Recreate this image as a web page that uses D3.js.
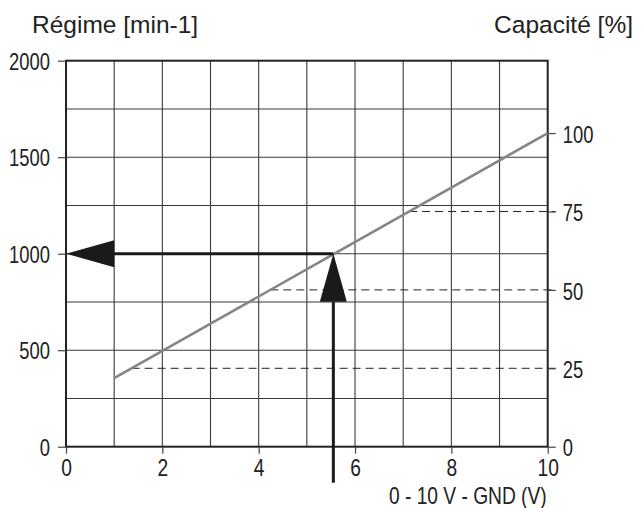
<!DOCTYPE html>
<html>
<head>
<meta charset="utf-8">
<script src="https://cdn.jsdelivr.net/npm/d3@7"></script>
<style>
  html, body { margin: 0; padding: 0; background: #fff; }
  svg { display: block; }
  .title { font-family: "Liberation Sans", Arial, "Helvetica Neue", sans-serif; font-size: 24.5px; fill: #222; }
  .cond { font-family: "Liberation Sans", Arial, sans-serif; fill: #222; }
</style>
</head>
<body>
<svg id="chart" width="641" height="508"></svg>
<script>
// ---- data ----
const voltageTicks = [0, 2, 4, 6, 8, 10];
const rpmTicks = [0, 500, 1000, 1500, 2000];
const capacityTicks = [0, 25, 50, 75, 100];
const lineVoltage = [1, 10];
const lineRpm = [355, 1625];
const dashedCapacity = [25, 50, 75];
const arrowVoltage = 5.55;
const arrowRpm = 1000;
const rpmPerPercent = 16.25; // 100 % = 1625 min-1
const leftTitle = "Régime [min-1]";
const rightTitle = "Capacité [%]";
const xTitle = "0 - 10 V - GND (V)";

// ---- layout ----
const svg = d3.select("#chart");
const m = { left: 66, top: 60.7, right: 93.3, bottom: 61.3 };
const W = 641 - m.left - m.right;
const H = 508 - m.top - m.bottom;
const g = svg.append("g").attr("transform", `translate(${m.left},${m.top})`);

const x = d3.scaleLinear().domain([0, 10]).range([0, W]);
const y = d3.scaleLinear().domain([0, 2000]).range([H, 0]);
const yR = d3.scaleLinear().domain([0, 2000 / rpmPerPercent]).range([H, 0]);

const SX = 0.8;
function condense(sel, size) {
  sel.each(function () {
    const t = d3.select(this);
    const tx = +t.attr("x") || 0;
    t.attr("x", 0).attr("class", "cond").style("font-size", size)
      .attr("transform", `translate(${tx},0) scale(${SX},1)`);
  });
}

// grid
const gridColor = "#3a3a3a";
g.append("g").selectAll("line").data(d3.range(1, 10)).join("line")
  .attr("x1", d => x(d)).attr("x2", d => x(d)).attr("y1", 0).attr("y2", H)
  .attr("stroke", gridColor).attr("stroke-width", 1.1);
g.append("g").selectAll("line").data(d3.range(250, 2000, 250)).join("line")
  .attr("x1", 0).attr("x2", W).attr("y1", d => y(d)).attr("y2", d => y(d))
  .attr("stroke", gridColor).attr("stroke-width", 1.1);

// dashed capacity lines
const slope = (lineRpm[1] - lineRpm[0]) / (lineVoltage[1] - lineVoltage[0]);
g.append("g").selectAll("line").data(dashedCapacity).join("line")
  .attr("x1", d => x(lineVoltage[0] + (d * rpmPerPercent - lineRpm[0]) / slope))
  .attr("x2", W + 8)
  .attr("y1", d => yR(d)).attr("y2", d => yR(d))
  .attr("stroke", "#222").attr("stroke-width", 1).attr("stroke-dasharray", "8,5");

// frame
g.append("rect").attr("x", 0).attr("y", 0).attr("width", W).attr("height", H)
  .attr("fill", "none").attr("stroke", "#222").attr("stroke-width", 2);

// axes
const xAxis = g.append("g").attr("transform", `translate(0,${H})`)
  .call(d3.axisBottom(x).tickValues(voltageTicks).tickSize(7).tickPadding(5).tickFormat(d3.format("d")));
xAxis.select(".domain").remove();
xAxis.selectAll(".tick line").attr("stroke", "#444").attr("stroke-width", 1.2);
condense(xAxis.selectAll(".tick text"), "24px");

const yAxis = g.append("g")
  .call(d3.axisLeft(y).tickValues(rpmTicks).tickSize(8).tickPadding(8).tickFormat(d3.format("d")));
yAxis.select(".domain").remove();
yAxis.selectAll(".tick line").attr("stroke", "#444").attr("stroke-width", 1.2);
condense(yAxis.selectAll(".tick text"), "23px");
yAxis.selectAll(".tick text").attr("dy", "0.38em");

const yRAxis = g.append("g").attr("transform", `translate(${W},0)`)
  .call(d3.axisRight(yR).tickValues(capacityTicks).tickSize(8).tickPadding(7).tickFormat(d3.format("d")));
yRAxis.select(".domain").remove();
yRAxis.selectAll(".tick line").attr("stroke", "#444").attr("stroke-width", 1.2);
condense(yRAxis.selectAll(".tick text"), "23px");
yRAxis.selectAll(".tick text").attr("dy", "0.4em");

// data line
const line = d3.line().x(d => x(d[0])).y(d => y(d[1]));
g.append("path").datum(d3.zip(lineVoltage, lineRpm)).attr("d", line)
  .attr("fill", "none").attr("stroke", "#858585").attr("stroke-width", 2.6);

// arrows
const ax = x(arrowVoltage), ay = y(arrowRpm);
const headLen = x(1) - x(0), headHalf = 13.5;
g.append("line").attr("x1", ax).attr("x2", x(0) + headLen).attr("y1", ay).attr("y2", ay)
  .attr("stroke", "#1a1a1a").attr("stroke-width", 3);
g.append("path").attr("d", `M${x(0)},${ay}L${x(0) + headLen},${ay - headHalf}L${x(0) + headLen},${ay + headHalf}Z`)
  .attr("fill", "#1a1a1a");
g.append("line").attr("x1", ax).attr("x2", ax).attr("y1", ay + headLen).attr("y2", H + 36)
  .attr("stroke", "#1a1a1a").attr("stroke-width", 3);
g.append("path").attr("d", `M${ax},${ay}L${ax - headHalf},${ay + headLen}L${ax + headHalf},${ay + headLen}Z`)
  .attr("fill", "#1a1a1a");

// titles
svg.append("text").attr("class", "title").attr("x", 32).attr("y", 33).text(leftTitle);
svg.append("text").attr("class", "title").attr("x", 633).attr("y", 33).attr("text-anchor", "end").text(rightTitle);
svg.append("text").attr("class", "cond").attr("text-anchor", "end")
  .attr("transform", `translate(${m.left + W - 1},503.5) scale(${SX},1)`)
  .style("font-size", "24px").text(xTitle);
</script>
</body>
</html>
